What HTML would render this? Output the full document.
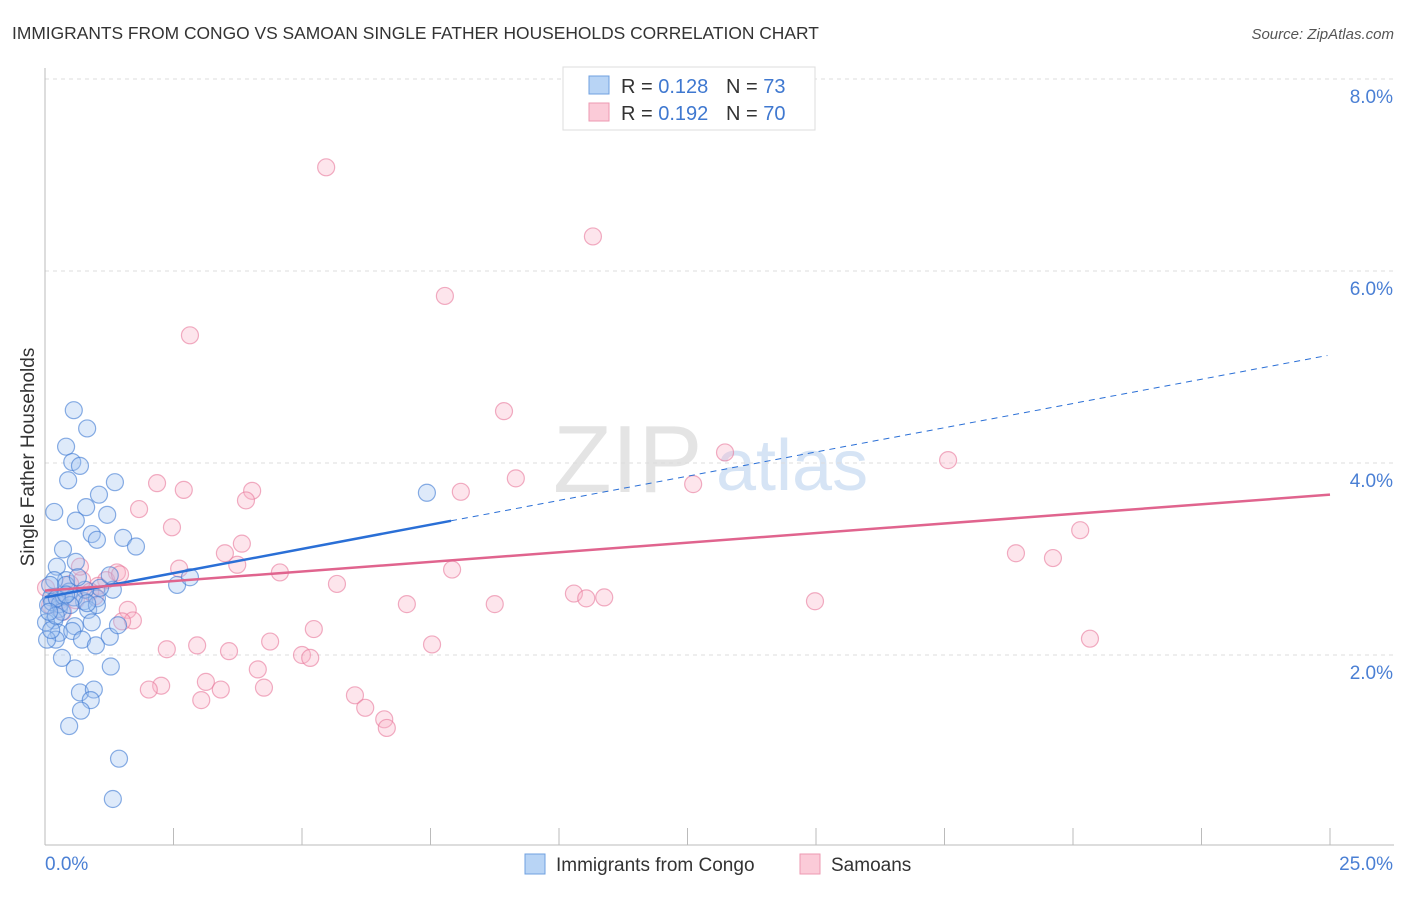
<!DOCTYPE html>
<html><head><meta charset="utf-8"><style>
body{margin:0;background:#fff;font-family:"Liberation Sans",sans-serif}
svg text{font-family:"Liberation Sans",sans-serif}
</style></head><body>
<svg id="c" width="1406" height="892">
<text x="12" y="39" font-size="17.4" fill="#333">IMMIGRANTS FROM CONGO VS SAMOAN SINGLE FATHER HOUSEHOLDS CORRELATION CHART</text>
<text x="1394" y="39" font-size="15" fill="#555" text-anchor="end" font-style="italic">Source: ZipAtlas.com</text>
<text x="553" y="492" font-size="96" fill="#e4e4e4" font-family="Liberation Serif">ZIP</text>
<text x="716" y="490" font-size="72" fill="#d6e4f5">atlas</text>
<text transform="translate(34,457) rotate(-90)" font-size="19" fill="#333" text-anchor="middle">Single Father Households</text>
<g id="grid"></g><g id="pts"></g><g id="trend"></g>
<g>
<rect x="563" y="67" width="252" height="63" fill="#fff" stroke="#ddd"/>
<rect x="589" y="76" width="20" height="18" fill="#b8d4f5" stroke="#6fa0e0"/>
<text x="621" y="93" font-size="20" fill="#333">R = <tspan fill="#3f78d0">0.128</tspan></text>
<text x="726" y="93" font-size="20" fill="#333">N = <tspan fill="#3f78d0">73</tspan></text>
<rect x="589" y="103" width="20" height="18" fill="#fbcbd8" stroke="#ee9ab2"/>
<text x="621" y="120" font-size="20" fill="#333">R = <tspan fill="#3f78d0">0.192</tspan></text>
<text x="726" y="120" font-size="20" fill="#333">N = <tspan fill="#3f78d0">70</tspan></text>
</g>
<g>
<rect x="525" y="854" width="20" height="20" fill="#b8d4f5" stroke="#6fa0e0"/>
<text x="556" y="871" font-size="19" fill="#333">Immigrants from Congo</text>
<rect x="800" y="854" width="20" height="20" fill="#fbcbd8" stroke="#ee9ab2"/>
<text x="831" y="871" font-size="19" fill="#333">Samoans</text>
</g>
</svg>
<script>
const yTicks=[2,4,6,8];
const yTickLabels=["2.0%","4.0%","6.0%","8.0%"];
const xTickLabels=["0.0%","25.0%"];
const congoX=[0.56,0.82,0.41,0.53,0.68,0.45,1.36,1.05,0.18,0.80,0.60,1.21,0.91,1.52,1.01,1.77,0.35,0.23,0.60,0.41,0.18,0.12,0.47,0.76,1.01,1.32,2.57,2.82,7.43,0.27,0.84,0.91,0.58,0.18,0.27,0.53,0.72,1.26,0.99,0.21,0.33,0.58,1.28,0.68,0.95,0.89,0.70,0.47,1.44,1.32,0.04,0.06,0.14,0.29,0.02,0.10,0.37,1.07,0.33,0.78,1.42,0.12,0.23,1.01,0.56,0.41,0.82,0.21,0.49,0.08,0.64,1.26,0.41];
const congoY=[4.55,4.36,4.17,4.01,3.97,3.82,3.80,3.67,3.49,3.54,3.40,3.46,3.26,3.22,3.20,3.13,3.10,2.92,2.97,2.78,2.78,2.60,2.66,2.56,2.59,2.68,2.73,2.81,3.69,2.48,2.47,2.34,2.30,2.36,2.23,2.25,2.16,2.19,2.10,2.16,1.97,1.86,1.88,1.61,1.64,1.53,1.42,1.26,0.92,0.50,2.16,2.52,2.55,2.53,2.34,2.73,2.61,2.70,2.45,2.68,2.31,2.26,2.59,2.52,2.60,2.73,2.54,2.41,2.52,2.45,2.81,2.83,2.63];
const samoanX=[5.47,10.66,7.78,2.82,8.93,13.23,17.57,2.18,2.70,4.03,8.09,9.16,12.61,3.91,1.83,2.47,20.14,3.83,3.50,18.89,19.61,3.74,2.61,1.40,1.19,1.03,0.72,0.49,4.57,5.68,7.92,10.29,10.53,10.88,14.98,7.04,8.75,1.61,1.71,1.50,0.97,0.68,0.29,5.23,4.38,2.96,2.37,3.58,7.53,20.33,5.00,5.16,4.14,3.13,2.26,2.02,3.42,4.26,6.03,3.04,6.23,6.60,6.65,0.23,0.10,0.35,0.88,1.46,0.02,0.60];
const samoanY=[7.08,6.36,5.74,5.33,4.54,4.11,4.03,3.79,3.72,3.71,3.70,3.84,3.78,3.61,3.52,3.33,3.30,3.16,3.06,3.06,3.01,2.94,2.90,2.86,2.78,2.72,2.78,2.74,2.86,2.74,2.89,2.64,2.59,2.60,2.56,2.53,2.53,2.47,2.36,2.35,2.61,2.92,2.57,2.27,2.14,2.10,2.06,2.04,2.11,2.17,2.00,1.97,1.85,1.72,1.68,1.64,1.64,1.66,1.58,1.53,1.45,1.33,1.24,2.61,2.52,2.45,2.66,2.84,2.70,2.57];
const congoTrend=[2.60,5.125];
const samoanTrend=[2.67,3.67];
const congoSolidEnd=7.9;

const NS="http://www.w3.org/2000/svg";
const X=v=>45+v*51.4, Y=v=>847-v*96;
function mk(tag,at,parent){const e=document.createElementNS(NS,tag);for(const k in at)e.setAttribute(k,at[k]);document.getElementById(parent).appendChild(e);return e;}
yTicks.forEach((t,i)=>{
 const l=mk('line',{x1:45,x2:1394,y1:Y(t),y2:Y(t),stroke:'#ddd','stroke-dasharray':'4,4'},'grid');
 
 
 const tx=mk('text',{x:1393,y:Y(t)+24,'font-size':19,fill:'#4a7fd4','text-anchor':'end'},'grid');
 tx.textContent=yTickLabels[i];
 
 
});
const ax=mk('line',{x1:45,x2:45,y1:68,y2:845,stroke:'#bbb'},'grid');


const bx=mk('line',{x1:45,x2:1394,y1:845,y2:845,stroke:'#bbb'},'grid');


for(let i=1;i<=10;i++){const v=i*2.5;const t=mk('line',{x1:X(v),x2:X(v),y1:828,y2:845,stroke:'#bbb'},'grid');
 
 }
[[0,45,'start'],[25,1393,'end']].forEach((d,i)=>{const t=mk('text',{x:d[1],y:870,'font-size':19,fill:'#4a7fd4','text-anchor':d[2]},'grid');t.textContent=xTickLabels[i];
 
 });
function pts(xs,ys,fill,stroke,name){xs.forEach((x,i)=>{const c=mk('circle',{cx:X(x),cy:Y(ys[i]),r:8.5,fill:fill,stroke:stroke,'stroke-width':1.2},'pts');
 
 });}
pts(samoanX,samoanY,'rgba(248,180,200,0.35)','rgba(232,120,155,0.6)','samoan-point');
pts(congoX,congoY,'rgba(160,195,240,0.35)','rgba(60,120,210,0.6)','congo-point');
const cy=v=>congoTrend[0]+(congoTrend[1]-congoTrend[0])*v/25;
const l1=mk('line',{x1:X(0),y1:Y(cy(0)),x2:X(congoSolidEnd),y2:Y(cy(congoSolidEnd)),stroke:'#2a6fd6','stroke-width':2.5},'trend');


const l2=mk('line',{x1:X(congoSolidEnd),y1:Y(cy(congoSolidEnd)),x2:X(24.95),y2:Y(cy(24.95)),stroke:'#2a6fd6','stroke-width':1,'stroke-dasharray':'6,5'},'trend');


const l3=mk('line',{x1:X(0),y1:Y(samoanTrend[0]),x2:X(25),y2:Y(samoanTrend[1]),stroke:'#e0648e','stroke-width':2.5},'trend');


</script>
</body></html>
